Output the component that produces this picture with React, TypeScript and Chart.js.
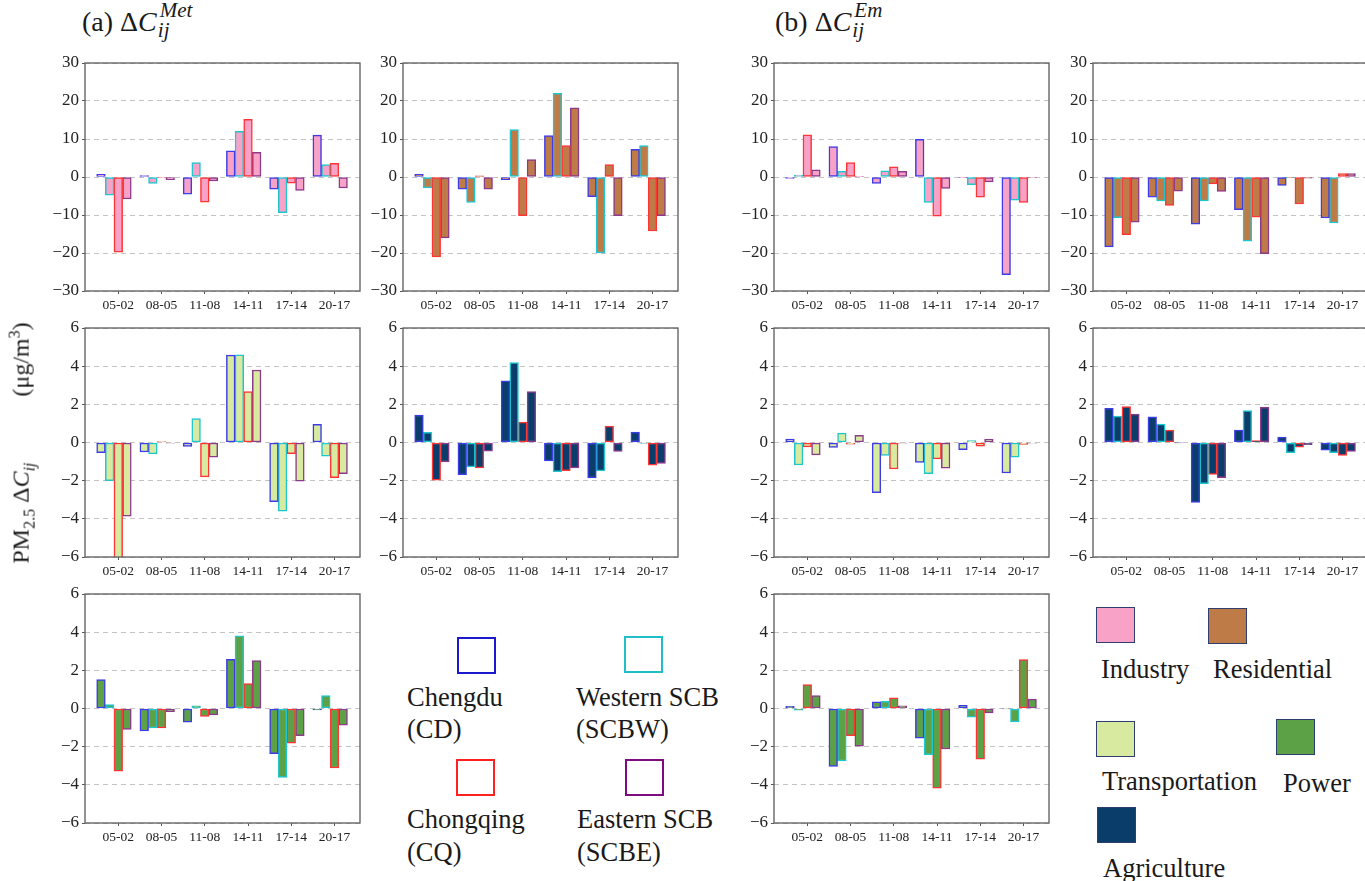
import React, { useEffect, useRef } from 'react';
import { Chart, registerables } from 'chart.js';
Chart.register(...registerables);

const categories = ['05-02', '08-05', '11-08', '14-11', '17-14', '20-17'];
const regionNames = ['CD', 'SCBW', 'CQ', 'SCBE'];
const regionColors = ['#3c3ce8', '#1ec6d0', '#ff3434', '#8c3a8c'];
const legendRegionColors = ['#1a1acc', '#1ebfc8', '#ff2020', '#800a80'];

const sectorColors = {
  industry: '#F9A2C8',
  residential: '#BF7B47',
  transportation: '#D8EAA0',
  power: '#5CA146',
  agriculture: '#0A3D6A',
};

// series order in each panel: CD, SCBW, CQ, SCBE ; values over categories
const industryMet = [
  [0.7, 0.4, -4.5, 6.9, -3.2, 11.0],
  [-4.8, -1.7, 3.8, 12.0, -9.4, 3.3],
  [-19.8, -0.2, -6.6, 15.2, -1.6, 3.6],
  [-5.8, -0.7, -1.0, 6.5, -3.5, -2.9],
];
const residentialMet = [
  [0.7, -3.2, -0.7, 10.9, -5.2, 7.3],
  [-2.9, -6.7, 12.5, 22.0, -20.0, 8.3],
  [-21.0, 0.3, -10.2, 8.3, 3.3, -14.2],
  [-16.0, -3.2, 4.6, 18.2, -10.2, -10.2],
];
const industryEm = [
  [-0.35, 8.0, -1.7, 9.9, -0.1, -25.7],
  [0.5, 1.5, 1.6, -6.7, -2.0, -6.1],
  [11.1, 3.8, 2.7, -10.3, -5.3, -6.7],
  [1.9, 0.1, 1.5, -3.0, -1.3, -0.1],
];
const residentialEm = [
  [-18.4, -5.3, -12.4, -8.6, -2.2, -10.8],
  [-10.7, -6.3, -6.3, -16.9, -0.2, -12.1],
  [-15.2, -7.5, -1.8, -10.6, -7.1, 0.9],
  [-11.9, -3.7, -3.8, -20.2, -0.3, 0.9],
];
const transportationMet = [
  [-0.53, -0.5, -0.2, 4.58, -3.1, 0.95],
  [-2.0, -0.6, 1.26, 4.6, -3.6, -0.72],
  [-6.2, 0.05, -1.8, 2.67, -0.58, -1.84],
  [-3.86, -0.03, -0.77, 3.8, -2.03, -1.63],
];
const agricultureMet = [
  [1.44, -1.68, 3.23, -0.96, -1.86, 0.54],
  [0.53, -1.28, 4.19, -1.53, -1.49, -0.04],
  [-1.98, -1.33, 1.07, -1.47, 0.86, -1.19],
  [-1.02, -0.46, 2.67, -1.33, -0.47, -1.1],
];
const transportationEm = [
  [0.18, -0.26, -2.63, -1.04, -0.37, -1.6],
  [-1.18, 0.49, -0.68, -1.63, 0.1, -0.77],
  [-0.23, -0.09, -1.39, -0.86, -0.19, -0.1],
  [-0.65, 0.37, -0.03, -1.35, 0.16, -0.03],
];
const agricultureEm = [
  [1.79, 1.35, -3.14, 0.65, 0.28, -0.4],
  [1.39, 0.96, -2.16, 1.67, -0.53, -0.53],
  [1.88, 0.65, -1.67, 0.1, -0.25, -0.68],
  [1.49, -0.02, -1.84, 1.84, -0.12, -0.47],
];
const powerMet = [
  [1.51, -1.18, -0.72, 2.58, -2.37, -0.07],
  [0.21, -1.02, 0.14, 3.81, -3.61, 0.68],
  [-3.28, -1.02, -0.42, 1.3, -1.82, -3.12],
  [-1.09, -0.16, -0.33, 2.51, -1.42, -0.88],
];
const powerEm = [
  [0.12, -3.04, 0.35, -1.56, 0.16, -0.02],
  [-0.09, -2.75, 0.37, -2.42, -0.46, -0.7],
  [1.26, -1.42, 0.56, -4.18, -2.65, 2.56],
  [0.68, -1.98, 0.14, -2.12, -0.23, 0.49],
];

const SERIF = 'Liberation Serif, Times New Roman, serif';
Chart.defaults.font.family = SERIF;
Chart.defaults.font.size = 15;
Chart.defaults.color = '#222';

const boxPlugin = {
  id: 'box',
  afterDraw(chart: any) {
    const { ctx, chartArea: a } = chart;
    ctx.save();
    ctx.strokeStyle = '#666666';
    ctx.lineWidth = 1.4;
    ctx.strokeRect(a.left, a.top, a.right - a.left, a.bottom - a.top);
    ctx.restore();
  },
};

const PAD_L = 52, PAD_T = 14, PAD_R = 4, PAD_B = 32;

function fmt(v: number) {
  return v < 0 ? '\u2212' + Math.abs(v) : String(v);
}

type PanelProps = {
  series: number[][];
  fill: string;
  yMax: number;
  step: number;
  left: number;
  top: number;
  right: number;
  bottom: number;
};

function Panel({ series, fill, yMax, step, left, top, right, bottom }: PanelProps) {
  const ref = useRef<HTMLCanvasElement>(null);
  const w = right - left + PAD_L + PAD_R;
  const h = bottom - top + PAD_T + PAD_B;
  useEffect(() => {
    const datasets: any[] = series.map((vals, r) => ({
      label: regionNames[r],
      data: vals.map((v, i) => ({ x: i, y: v })),
      backgroundColor: fill,
      borderColor: regionColors[r],
      borderWidth: 1.5,
      borderSkipped: false,
    }));
    datasets.push({ label: '', data: [] });
    const chart = new Chart(ref.current as HTMLCanvasElement, {
      type: 'bar',
      data: { datasets },
      options: {
        responsive: false,
        maintainAspectRatio: false,
        animation: false,
        layout: { padding: { top: PAD_T, right: PAD_R, left: 0, bottom: 0 } },
        datasets: { bar: { categoryPercentage: 1, barPercentage: 1 } },
        plugins: { legend: { display: false }, tooltip: { enabled: false } },
        scales: {
          x: {
            type: 'linear',
            min: -0.77,
            max: 5.59,
            offset: false,
            afterBuildTicks: (s: any) => {
              s.ticks = categories.map((_, i) => ({ value: i }));
            },
            afterFit: (s: any) => {
              s.height = PAD_B;
            },
            grid: {
              display: true,
              drawOnChartArea: false,
              drawTicks: true,
              tickLength: 3,
              offset: false,
              color: '#555',
              tickColor: '#555',
            },
            border: { display: false },
            ticks: {
              autoSkip: false,
              maxRotation: 0,
              padding: 3,
              color: '#222',
              font: { family: SERIF, size: 13.5 },
              callback: (v: any) => categories[v] ?? '',
            },
          },
          y: {
            min: -yMax,
            max: yMax,
            afterFit: (s: any) => {
              s.width = PAD_L;
            },
            grid: {
              color: '#c4c4c4',
              lineWidth: 1,
              drawTicks: true,
              tickLength: 3,
              tickColor: '#555',
              tickBorderDash: [],
            },
            border: { display: false, dash: [5, 4] },
            ticks: {
              stepSize: step,
              padding: 3,
              color: '#222',
              font: { family: SERIF, size: 17 },
              callback: (v: any) => fmt(v),
            },
          },
        },
      } as any,
      plugins: [boxPlugin],
    });
    return () => chart.destroy();
  }, []);
  return (
    <canvas
      ref={ref}
      width={w}
      height={h}
      style={{ position: 'absolute', left: left - PAD_L, top: top - PAD_T, width: w, height: h }}
    />
  );
}

const COLS = [
  [85, 360],
  [403, 678],
  [774, 1049],
  [1093, 1368],
];
const ROWS = [
  [63, 291],
  [328, 557],
  [594, 823],
];

const txt = (extra: any) => ({
  position: 'absolute' as const,
  fontFamily: SERIF,
  fontSize: 26.5,
  lineHeight: 1,
  color: '#1a1a1a',
  whiteSpace: 'nowrap' as const,
  ...extra,
});

function Title({ left, letter, sup }: { left: number; letter: string; sup: string }) {
  return (
    <div style={txt({ left, top: 8, fontSize: 28 })}>
      ({letter}) Δ<i>C</i>
      <span style={{ display: 'inline-block', position: 'relative', width: 50, height: 20 }}>
        <i style={{ position: 'absolute', left: 3, top: -11, fontSize: 21 }}>{sup}</i>
        <i style={{ position: 'absolute', left: 1, top: 9, fontSize: 21 }}>ij</i>
      </span>
    </div>
  );
}

function RegionBox({ left, top, color }: { left: number; top: number; color: string }) {
  return (
    <div
      style={{
        position: 'absolute',
        left,
        top,
        width: 39,
        height: 37,
        boxSizing: 'border-box',
        border: `2.5px solid ${color}`,
        background: '#fff',
      }}
    />
  );
}

function SectorBox({ left, top, color }: { left: number; top: number; color: string }) {
  return (
    <div
      style={{
        position: 'absolute',
        left,
        top,
        width: 39,
        height: 36,
        boxSizing: 'border-box',
        border: '1.5px solid #2e3f6e',
        background: color,
      }}
    />
  );
}

export default function App() {
  const panels = [
    { s: industryMet, f: sectorColors.industry, y: 30, st: 10, c: 0, r: 0 },
    { s: residentialMet, f: sectorColors.residential, y: 30, st: 10, c: 1, r: 0 },
    { s: industryEm, f: sectorColors.industry, y: 30, st: 10, c: 2, r: 0 },
    { s: residentialEm, f: sectorColors.residential, y: 30, st: 10, c: 3, r: 0 },
    { s: transportationMet, f: sectorColors.transportation, y: 6, st: 2, c: 0, r: 1 },
    { s: agricultureMet, f: sectorColors.agriculture, y: 6, st: 2, c: 1, r: 1 },
    { s: transportationEm, f: sectorColors.transportation, y: 6, st: 2, c: 2, r: 1 },
    { s: agricultureEm, f: sectorColors.agriculture, y: 6, st: 2, c: 3, r: 1 },
    { s: powerMet, f: sectorColors.power, y: 6, st: 2, c: 0, r: 2 },
    { s: powerEm, f: sectorColors.power, y: 6, st: 2, c: 2, r: 2 },
  ];
  return (
    <div
      style={{
        position: 'fixed',
        left: 0,
        top: 0,
        width: 1365,
        height: 881,
        overflow: 'hidden',
        background: '#fff',
      }}
    >
      {panels.map((p, i) => (
        <Panel
          key={i}
          series={p.s}
          fill={p.f}
          yMax={p.y}
          step={p.st}
          left={COLS[p.c][0]}
          right={COLS[p.c][1]}
          top={ROWS[p.r][0]}
          bottom={ROWS[p.r][1]}
        />
      ))}

      <Title left={82} letter="a" sup="Met" />
      <Title left={775} letter="b" sup="Em" />

      <div
        style={txt({
          left: 22,
          top: 443,
          fontSize: 24,
          transform: 'translate(-50%, -50%) rotate(-90deg)',
        })}
      >
        PM<sub style={{ fontSize: 16 }}>2.5</sub> Δ<i>C</i>
        <sub style={{ fontSize: 16 }}>
          <i>ij</i>
        </sub>
        <span style={{ display: 'inline-block', width: 66 }} />
        (μg/m<sup style={{ fontSize: 16 }}>3</sup>)
      </div>

      <RegionBox left={457} top={637} color={legendRegionColors[0]} />
      <RegionBox left={624} top={636} color={legendRegionColors[1]} />
      <RegionBox left={456} top={759} color={legendRegionColors[2]} />
      <RegionBox left={625} top={759} color={legendRegionColors[3]} />
      <div style={txt({ left: 407, top: 684 })}>Chengdu</div>
      <div style={txt({ left: 407, top: 716 })}>(CD)</div>
      <div style={txt({ left: 576, top: 684 })}>Western SCB</div>
      <div style={txt({ left: 576, top: 716 })}>(SCBW)</div>
      <div style={txt({ left: 407, top: 806 })}>Chongqing</div>
      <div style={txt({ left: 407, top: 839 })}>(CQ)</div>
      <div style={txt({ left: 577, top: 806 })}>Eastern SCB</div>
      <div style={txt({ left: 577, top: 839 })}>(SCBE)</div>

      <SectorBox left={1096} top={607} color={sectorColors.industry} />
      <SectorBox left={1208} top={608} color={sectorColors.residential} />
      <SectorBox left={1096} top={721} color={sectorColors.transportation} />
      <SectorBox left={1276} top={719} color={sectorColors.power} />
      <SectorBox left={1097} top={807} color={sectorColors.agriculture} />
      <div style={txt({ left: 1101, top: 656 })}>Industry</div>
      <div style={txt({ left: 1213, top: 656 })}>Residential</div>
      <div style={txt({ left: 1102, top: 768 })}>Transportation</div>
      <div style={txt({ left: 1283, top: 770 })}>Power</div>
      <div style={txt({ left: 1103, top: 855 })}>Agriculture</div>
    </div>
  );
}
